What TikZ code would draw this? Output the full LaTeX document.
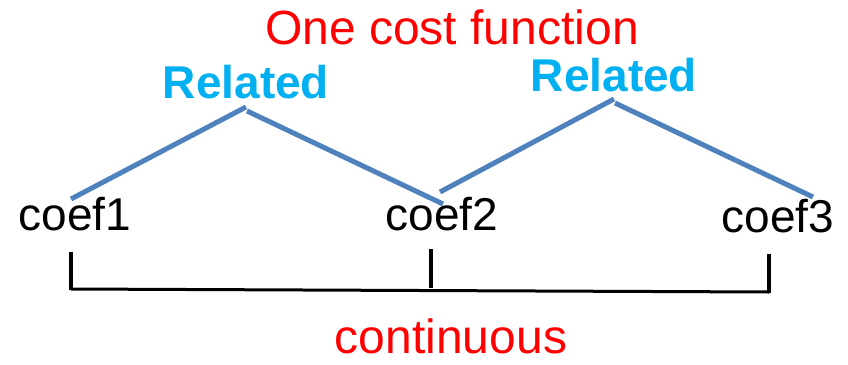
\documentclass[tikz,border=0pt]{standalone}
\usepackage{fontspec}
\setmainfont{Liberation Sans}
\definecolor{relblue}{RGB}{0,176,240}
\definecolor{linkblue}{RGB}{79,129,189}
\definecolor{pred}{RGB}{255,0,0}
\begin{document}
\begin{tikzpicture}[x=1pt,y=-1pt,
  lbl/.style={anchor=base,inner sep=0pt,font=\fontsize{48}{48}\selectfont},
  coefnode/.style={anchor=base,inner sep=0pt,font=\fontsize{46}{46}\selectfont},
  relnode/.style={anchor=base,inner sep=0pt,text=relblue,font=\fontsize{46}{46}\selectfont\bfseries},
  link/.style={draw=linkblue,line width=5pt},
  tick/.style={draw=black,line width=4pt},
  axis/.style={draw=black,line width=3pt}]
\useasboundingbox (0,0) rectangle (848,364);
\node[lbl,text=pred] (title) at (452,44) {One cost function};
\node[relnode] (rel1) at (246,98) {Related};
\node[relnode] (rel2) at (614,91) {Related};
\node[coefnode] (c1) at (75,230) {coef1};
\node[coefnode] (c2) at (442,230) {coef2};
\node[coefnode] (c3) at (778,232) {coef3};
\node[lbl,text=pred,text depth=0pt] (cont) at (451,353) {continuous};
% link end points
\coordinate (a1) at (71,199);
\coordinate (a2) at (246,107);
\coordinate (b1) at (247,111);
\coordinate (b2) at (443,204);
\coordinate (d1) at (440,192);
\coordinate (d2) at (614,99);
\coordinate (e1) at (615,103);
\coordinate (e2) at (813,197);
\draw[link] (a1) -- (a2);
\draw[link] (b1) -- (b2);
\draw[link] (d1) -- (d2);
\draw[link] (e1) -- (e2);
% ticks and axis
\coordinate (t1a) at (71,252);
\coordinate (t1b) at (71,290);
\coordinate (t2a) at (431,249);
\coordinate (t2b) at (431,288);
\coordinate (t3a) at (769,254);
\coordinate (t3b) at (769,293);
\coordinate (h1) at (71,289);
\coordinate (h2) at (769,292);
\draw[tick] (t1a) -- (t1b);
\draw[tick] (t2a) -- (t2b);
\draw[tick] (t3a) -- (t3b);
\draw[axis] (h1) -- (h2);
\end{tikzpicture}
\end{document}
